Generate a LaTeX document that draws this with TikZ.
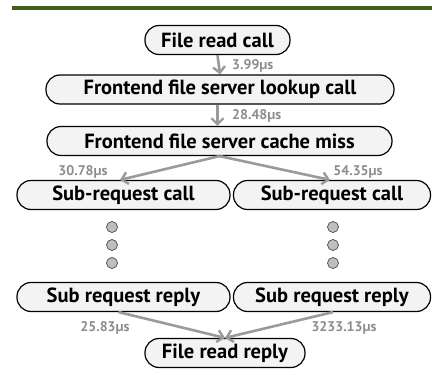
\documentclass[tikz,border=0pt]{standalone}
\usepackage{fontspec}
\setmainfont{PT Sans}
\usetikzlibrary{arrows.meta}
\definecolor{topgreen}{HTML}{3F5F1F}
\definecolor{boxfill}{HTML}{F3F3F3}
\definecolor{arrgray}{HTML}{9A9A9A}
\definecolor{labgray}{HTML}{8C8C8C}
\definecolor{dotfill}{HTML}{BEBEBE}
\tikzset{
  box/.style={draw=black, line width=1.2pt, fill=boxfill, rounded corners=14pt,
    minimum height=29pt, inner sep=0pt, font=\fontsize{20.5}{22}\selectfont\bfseries},
  arr/.style={draw=arrgray, line width=2.6pt, -{Straight Barb[length=6pt,width=12pt,line width=2.4pt]}},
  lab/.style={text=labgray, font=\fontsize{14}{16}\selectfont\bfseries, inner sep=0pt},
  dot/.style={circle, draw=black!70, fill=dotfill, line width=0.7pt, minimum size=11pt, inner sep=0pt},
}
\begin{document}
\begin{tikzpicture}[x=1pt,y=-1pt]
\useasboundingbox (0,0) rectangle (432,375);
\fill[topgreen] (12,6) rectangle (432,10);

\node[box, minimum width=145pt] (A) at (217.5,40) {File read call};
\node[box, minimum width=348pt] (B) at (220,89.5) {Frontend file server lookup call};
\node[box, minimum width=345pt] (C) at (219.5,141) {Frontend file server cache miss};
\node[box, minimum width=213pt] (L1) at (123.5,195) {Sub-request call};
\node[box, minimum width=197pt] (R1) at (332,195) {Sub-request call};
\node[box, minimum width=213pt] (L2) at (123.5,297) {Sub request reply};
\node[box, minimum width=197pt] (R2) at (332,297) {Sub request reply};
\node[box, minimum width=160pt] (F) at (225,353) {File read reply};

\node[dot] (ld1) at (112,227) {};
\node[dot] (ld2) at (112,245) {};
\node[dot] (ld3) at (112,263) {};
\node[dot] (rd1) at (333,227) {};
\node[dot] (rd2) at (333,245) {};
\node[dot] (rd3) at (333,263) {};

\draw[arr] (A.south) -- (B.north);
\draw[arr] (B.south -| A.south) -- (C.north -| A.south);
\draw[arr] (C.south) -- ([xshift=-3.5pt]L1.north);
\draw[arr] (C.south) -- ([xshift=-2pt]R1.north);
\draw[arr] ([xshift=-5pt]L2.south) -- (F.north);
\draw[arr] ([xshift=1pt]R2.south) -- (F.north);

\node[lab, anchor=west] (t1) at (232,66) {3.99µs};
\node[lab, anchor=west] (t2) at (232,116) {28.48µs};
\node[lab] (t3) at (83,171.5) {30.78µs};
\node[lab] (t4) at (358,171.5) {54.35µs};
\node[lab] (t5) at (105,328) {25.83µs};
\node[lab] (t6) at (344,328) {3233.13µs};
\end{tikzpicture}
\end{document}
